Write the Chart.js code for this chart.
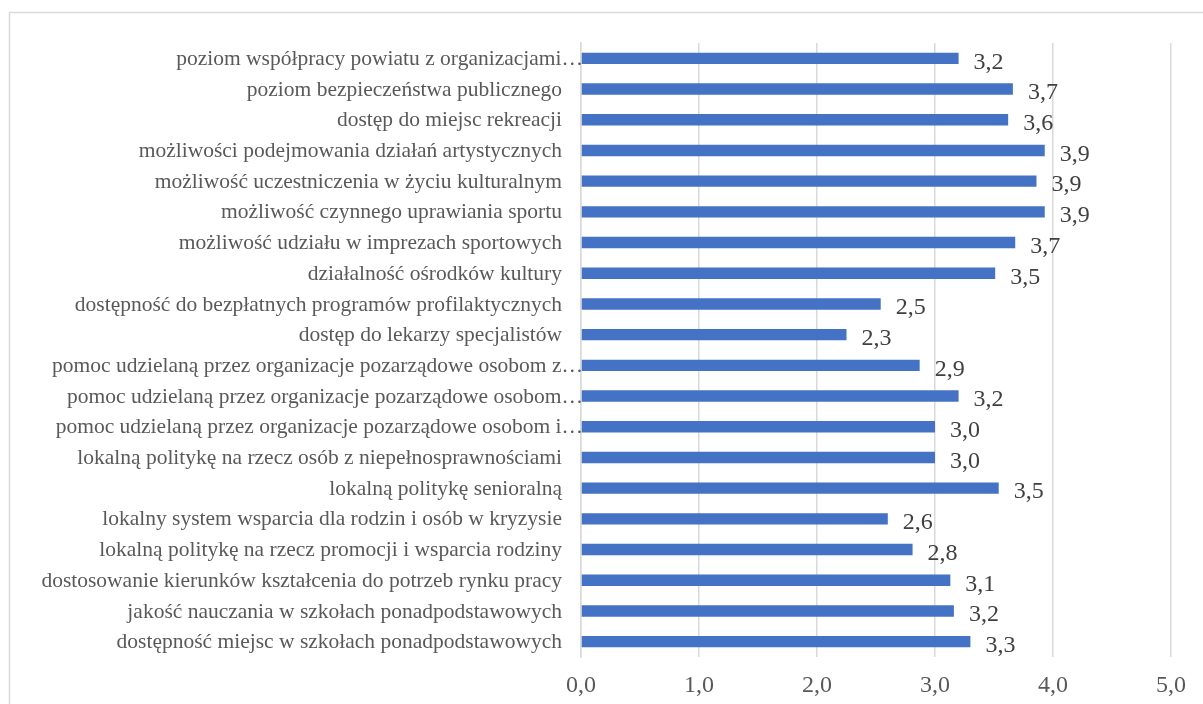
<!DOCTYPE html>
<html>
<head>
<meta charset="utf-8">
<script src="https://cdn.jsdelivr.net/npm/chart.js@4.4.1/dist/chart.umd.min.js"></script>
<style>
  html, body { margin: 0; padding: 0; background: #fff; overflow: hidden; }
  #wrap { position: relative; width: 1203px; height: 704px; }
</style>
</head>
<body>
<div id="wrap"><canvas id="c" width="1203" height="704"></canvas></div>
<script>
const categories = [
  "poziom współpracy powiatu z organizacjami…",
  "poziom bezpieczeństwa publicznego",
  "dostęp do miejsc rekreacji",
  "możliwości podejmowania działań artystycznych",
  "możliwość uczestniczenia w życiu kulturalnym",
  "możliwość czynnego uprawiania sportu",
  "możliwość udziału w imprezach sportowych",
  "działalność ośrodków kultury",
  "dostępność do bezpłatnych programów profilaktycznych",
  "dostęp do lekarzy specjalistów",
  "pomoc udzielaną przez organizacje pozarządowe osobom z…",
  "pomoc udzielaną przez organizacje pozarządowe osobom…",
  "pomoc udzielaną przez organizacje pozarządowe osobom i…",
  "lokalną politykę na rzecz osób z niepełnosprawnościami",
  "lokalną politykę senioralną",
  "lokalny system wsparcia dla rodzin i osób w kryzysie",
  "lokalną politykę na rzecz promocji i wsparcia rodziny",
  "dostosowanie kierunków kształcenia do potrzeb rynku pracy",
  "jakość nauczania w szkołach ponadpodstawowych",
  "dostępność miejsc w szkołach ponadpodstawowych"
];
const values = [3.20, 3.66, 3.62, 3.93, 3.86, 3.93, 3.68, 3.51, 2.54, 2.25,
                2.87, 3.20, 3.00, 3.00, 3.54, 2.60, 2.81, 3.13, 3.16, 3.30];
const xTicks = [0, 1, 2, 3, 4, 5];

const fmt = v => v.toFixed(1).replace('.', ',');
const SERIF = '"Liberation Serif", "Times New Roman", serif';

const borderPlugin = {
  id: 'outerBorder',
  beforeDraw(chart) {
    const ctx = chart.ctx;
    ctx.save();
    ctx.fillStyle = '#ffffff';
    ctx.fillRect(0, 0, chart.width, chart.height);
    ctx.strokeStyle = '#d9d9d9';
    ctx.lineWidth = 1.5;
    ctx.strokeRect(9.5, 12.5, 1400, 900);
    ctx.restore();
  }
};

const labelsPlugin = {
  id: 'customLabels',
  afterDatasetsDraw(chart) {
    const ctx = chart.ctx;
    const yScale = chart.scales.y;
    const meta = chart.getDatasetMeta(0);
    ctx.save();
    // category labels
    ctx.font = '21.5px ' + SERIF;
    ctx.fillStyle = '#595959';
    ctx.textAlign = 'right';
    ctx.textBaseline = 'middle';
    categories.forEach((lab, i) => {
      const y = yScale.getPixelForTick(i) + 1;
      const xr = lab.endsWith('…') ? chart.chartArea.left + 2 : chart.chartArea.left - 19;
      ctx.fillText(lab, xr, y);
    });
    // value labels
    ctx.font = '24px ' + SERIF;
    ctx.fillStyle = '#404040';
    ctx.textAlign = 'left';
    meta.data.forEach((bar, i) => {
      ctx.fillText(fmt(values[i]), bar.x + 15, bar.y + 4);
    });
    ctx.restore();
  }
};

new Chart(document.getElementById('c'), {
  type: 'bar',
  data: {
    labels: categories,
    datasets: [{
      data: values,
      backgroundColor: '#4472C4',
      borderWidth: 0,
      categoryPercentage: 1.0,
      barPercentage: 0.37
    }]
  },
  options: {
    indexAxis: 'y',
    responsive: false,
    animation: false,
    devicePixelRatio: 1,
    layout: { padding: { left: 20, right: 32, top: 43, bottom: 0 } },
    plugins: { legend: { display: false }, tooltip: { enabled: false } },
    scales: {
      x: {
        min: 0, max: 5,
        afterBuildTicks(scale) { scale.ticks = xTicks.map(v => ({ value: v })); },
        afterFit(scale) { scale.height = 47; },
        grid: { color: '#d9d9d9', lineWidth: 1.5, drawTicks: false },
        border: { display: false },
        ticks: {
          padding: 14,
          color: '#595959',
          font: { family: SERIF, size: 24 },
          callback: v => fmt(v)
        }
      },
      y: {
        afterFit(scale) { scale.width = 561; },
        grid: { display: false, drawTicks: false },
        border: { display: true, color: '#d9d9d9', width: 1.5 },
        ticks: { display: false }
      }
    }
  },
  plugins: [borderPlugin, labelsPlugin]
});
</script>
</body>
</html>
